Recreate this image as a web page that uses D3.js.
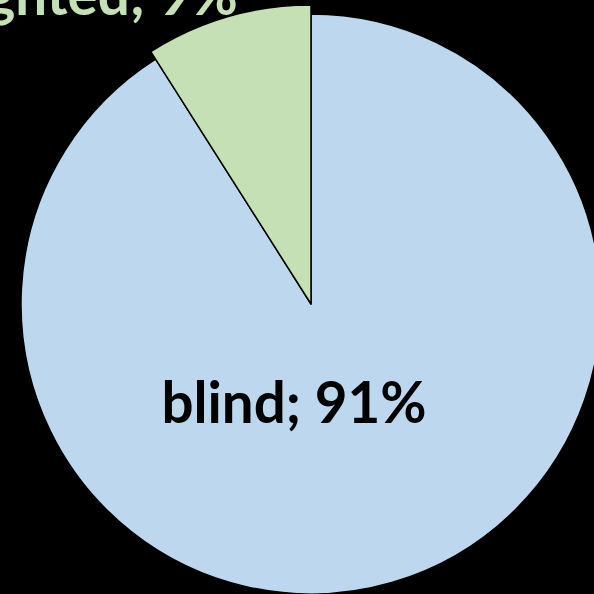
<!DOCTYPE html>
<html>
<head>
<meta charset="utf-8">
<script src="https://cdn.jsdelivr.net/npm/d3@7"></script>
<style>
  html, body { margin: 0; padding: 0; background: #000; }
  svg { display: block; }
</style>
</head>
<body>
<svg id="chart" width="594" height="594"></svg>
<script>
// Share of respondents by group
const categories = ["blind", "sighted"];
const values = [91, 9];
const labels = ["blind; 91%", "sighted; 9%"];
const colors = ["#BDD7EE", "#C5E0B4"];

const svg = d3.select("#chart");
const W = 594, H = 594;
svg.append("rect").attr("width", W).attr("height", H).attr("fill", "#000");

const cx = 311, cy = 304;
const radius = 290;

const data = categories.map((c, i) => ({ name: c, value: values[i], label: labels[i], color: colors[i] }));

const pie = d3.pie().value(d => d.value).sort(null).startAngle(0).endAngle(2 * Math.PI);
const arcs = pie(data);

// the smaller slice is drawn slightly larger so it stands out
const outerR = d => d.data.name === "sighted" ? radius + 9 : radius;
const arc = d3.arc().innerRadius(0).outerRadius(outerR);

const g = svg.append("g").attr("transform", `translate(${cx},${cy})`);

g.selectAll("path.slice")
  .data(arcs)
  .join("path")
  .attr("class", "slice")
  .attr("d", arc)
  .attr("fill", d => d.data.color)
  .attr("stroke", "#000")
  .attr("stroke-width", 1.5)
  .attr("stroke-linejoin", "round");

// labels
const labelPos = {
  blind: { dx: -17, dy: 119, fill: "#000" },
  sighted: { dx: -219, dy: -289, fill: "#C5E0B4" }
};

g.selectAll("text.lbl")
  .data(arcs)
  .join("text")
  .attr("class", "lbl")
  .attr("x", d => labelPos[d.data.name].dx)
  .attr("y", d => labelPos[d.data.name].dy)
  .attr("text-anchor", "middle")
  .attr("font-family", "Lato, 'Open Sans', sans-serif")
  .attr("font-weight", "bold")
  .attr("font-size", 56.5)
  .attr("fill", d => labelPos[d.data.name].fill)
  .text(d => d.data.label);
</script>
</body>
</html>
